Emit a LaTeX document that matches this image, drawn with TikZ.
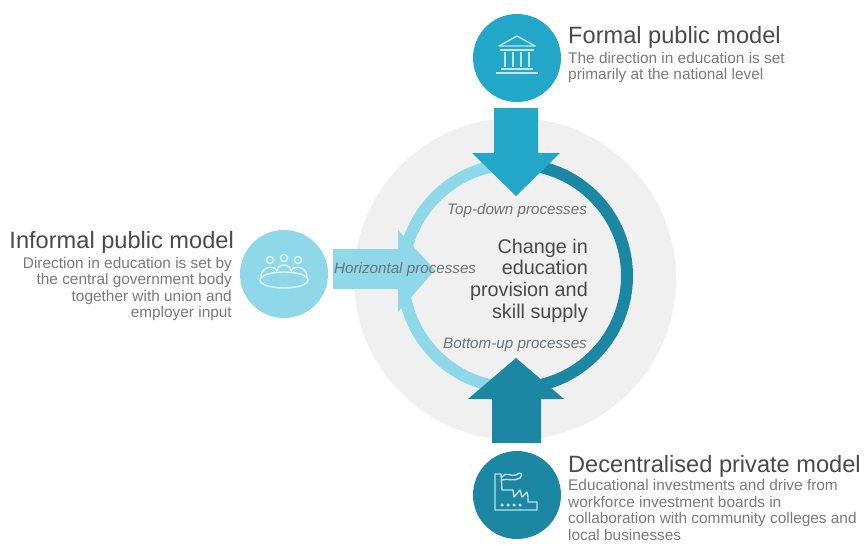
\documentclass[tikz,border=0pt]{standalone}
\usepackage{fontspec}
\setmainfont{Liberation Sans}
\usetikzlibrary{calc}
\definecolor{cA}{HTML}{22A7C9}
\definecolor{cB}{HTML}{8FD8EA}
\definecolor{cC}{HTML}{1C87A3}
\definecolor{ringg}{HTML}{F0F0F0}
\definecolor{headc}{HTML}{4A4A4A}
\definecolor{descc}{HTML}{7A7A7A}
\definecolor{procc}{HTML}{6A7478}
\tikzset{
  x=1pt,y=-1pt,
  hub/.style={circle,minimum size=88pt,inner sep=0pt},
  headt/.style={font=\fontsize{23.6}{27}\selectfont,text=headc,inner sep=0pt},
  desc/.style={font=\fontsize{15.4}{16.5}\selectfont,text=descc,inner sep=0pt},
  proc/.style={font=\itshape\fontsize{15.2}{18}\selectfont,text=procc,inner sep=0pt},
  icon/.style={draw=white,draw opacity=.72,line width=1.4pt,line join=round},
}
\begin{document}
\begin{tikzpicture}
\useasboundingbox (0,0) rectangle (864,544);
\fill[white] (0,0) rectangle (864,544);
% background disc
\node[circle,fill=ringg,minimum size=322pt,inner sep=0pt] (disc) at (515,279) {};
% ring
\coordinate (rc) at (515,276);
\draw[cB,line width=12pt] ($(rc)+(98:112)$) arc[start angle=98,end angle=262,radius=112];
\draw[cC,line width=12pt] ($(rc)+(-80:112)$) arc[start angle=-80,end angle=80,radius=112];
% hubs
\node[hub,fill=cA] (top) at (517,58) {};
\node[hub,fill=cB] (left) at (284,274) {};
\node[hub,fill=cC] (bot) at (517,495) {};
% block arrows
\fill[cA] (494,108) -- (538,108) -- (538,153) -- (560,153) -- (516,196) -- (472,153) -- (494,153) -- cycle;
\fill[cB] (333,249) -- (398,249) -- (398,230) -- (435,270) -- (398,312) -- (398,289) -- (333,289) -- cycle;
\fill[cC] (492,443) -- (541,443) -- (541,399) -- (564,399) -- (516,358) -- (468,399) -- (492,399) -- cycle;
% icons
\begin{scope}[shift={(top.center)}]
  \draw[icon] (-18,-12) -- (0,-22) -- (18,-12) -- cycle;
  \draw[icon] (-17,-8) -- (17,-8);
  \draw[icon,line width=2.2pt] (-12,-6) -- (-12,9) (-4,-6) -- (-4,9) (4,-6) -- (4,9) (12,-6) -- (12,9);
  \draw[icon] (-16,11) -- (16,11) (-21,15) -- (21,15);
\end{scope}
\begin{scope}[shift={(left.center)}]
  \draw[icon] (0,6) ellipse [x radius=24,y radius=8];
  \draw[icon] (-14,-14) circle[radius=3.6] (0,-16) circle[radius=3.6] (14,-14) circle[radius=3.6];
  \draw[icon] (-23,2) .. controls (-22,-8) and (-9,-9) .. (-7,-3);
  \draw[icon] (-7,-3) .. controls (-7,-11) and (7,-11) .. (7,-3);
  \draw[icon] (7,-3) .. controls (9,-9) and (22,-8) .. (23,2);
\end{scope}
\begin{scope}[shift={(bot.center)}]
  \draw[icon] (-22,-21) -- (-16,-21) -- (-15,-5) -- (-4,-5) -- (-3,2) -- (3,-5) -- (5,2) -- (10,-3) -- (11,2) -- (11,7) -- (20,7) -- (20,15) -- (-22,15) -- cycle;
  \draw[icon] (-15,-18) .. controls (-10,-24) and (-6,-18) .. (-1,-20) .. controls (3,-24) and (7,-21) .. (3,-17) .. controls (-3,-13) and (-9,-17) .. (-15,-15);
  \draw[icon] (-15,10) circle[radius=1] (-9,10) circle[radius=1] (-3,10) circle[radius=1] (3,10) circle[radius=1];
\end{scope}
% process labels
\node[proc,anchor=base west] (ltop) at (447,214) {Top-down processes};
\node[proc,anchor=base west] (lbot) at (443,348) {Bottom-up processes};
\node[proc,anchor=base west] (lhor) at (334,273) {Horizontal processes};
% centre
\node[align=right,anchor=north east,inner sep=0pt,font=\fontsize{19.8}{21.7}\selectfont,text=headc] (centre) at (588,238.6)
  {Change in\\education\\provision and\\skill supply};
% models
\node[headt,anchor=base west] (t1) at (568,43) {Formal public model};
\node[desc,anchor=north west,align=left] (d1) at (568,51.8) {The direction in education is set\\primarily at the national level};
\node[headt,anchor=base east] (t2) at (234,248) {Informal public model};
\node[desc,anchor=north east,align=right] (d2) at (232,256.8) {Direction in education is set by\\the central government body\\together with union and\\employer input};
\node[headt,anchor=base west] (t3) at (568,472) {Decentralised private model};
\node[desc,anchor=north west,align=left] (d3) at (568,479.5) {Educational investments and drive from\\workforce investment boards in\\collaboration with community colleges and\\local businesses};
\end{tikzpicture}
\end{document}
